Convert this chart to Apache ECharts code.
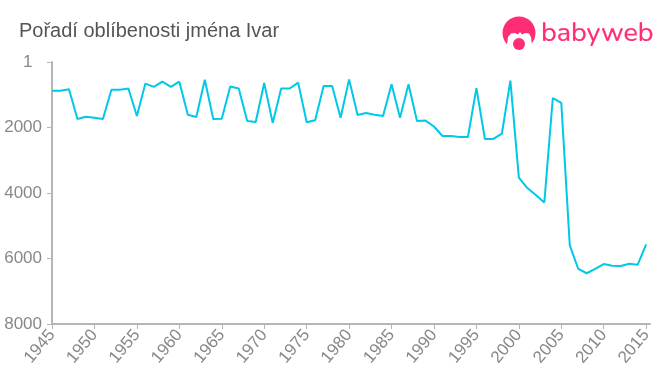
<!DOCTYPE html>
<html><head><meta charset="utf-8">
<style>html,body{margin:0;padding:0;background:#fff}#c{width:660px;height:375px}</style>
<script src="https://cdn.jsdelivr.net/npm/echarts@6/dist/echarts.min.js"></script></head>
<body><div id="c"></div>
<script>
const title = "Pořadí oblíbenosti jména Ivar";
const brand = "babyweb";
const years = [1945,1946,1947,1948,1949,1950,1951,1952,1953,1954,1955,1956,1957,1958,1959,1960,1961,1962,1963,1964,1965,1966,1967,1968,1969,1970,1971,1972,1973,1974,1975,1976,1977,1978,1979,1980,1981,1982,1983,1984,1985,1986,1987,1988,1989,1990,1991,1992,1993,1994,1995,1996,1997,1998,1999,2000,2001,2002,2003,2004,2005,2006,2007,2008,2009,2010,2011,2012,2013,2014,2015];
const ranks = [875,875,835,1740,1670,1700,1740,850,850,810,1650,660,760,600,760,600,1610,1680,540,1740,1730,750,810,1800,1830,640,1860,810,810,630,1840,1780,730,730,1700,530,1620,1560,1610,1650,680,1700,680,1800,1790,1970,2260,2260,2290,2290,800,2350,2350,2190,570,3530,3850,4060,4290,1100,1250,5600,6320,6450,6320,6170,6220,6230,6160,6190,5570];
const xTicks = [1945,1950,1955,1960,1965,1970,1975,1980,1985,1990,1995,2000,2005,2010,2015];
const yTicks = [0,2000,4000,6000,8000];
const yLabels = ["1  ","2000","4000","6000","8000"];
const pink = "#ff2d78";
const chart = echarts.init(document.getElementById('c'), null, {renderer:'canvas'});
const font = '"Liberation Sans", Arial, sans-serif';
chart.setOption({
  animation:false,
  backgroundColor:'#fff',
  title:{text:title,left:14,top:16,textStyle:{color:'#555',fontSize:20,fontWeight:'normal',fontFamily:font}},
  grid:{left:52,right:10,top:62,bottom:51,containLabel:false},
  xAxis:{type:'value',min:1945,max:2015.45,position:'bottom',
    axisLine:{show:true,onZero:false,lineStyle:{color:'#b5b5b5',width:2}},
    axisTick:{show:true,length:5,customValues:xTicks,lineStyle:{color:'#b5b5b5',width:1}},
    axisLabel:{customValues:xTicks,rotate:50,color:'#888',fontSize:17,fontFamily:font,margin:8,formatter:v=>String(v)},
    splitLine:{show:false}},
  yAxis:{type:'value',inverse:true,min:0,max:8000,
    axisLine:{show:true,onZero:false,lineStyle:{color:'#b5b5b5',width:2}},
    axisTick:{show:true,length:5,customValues:yTicks,lineStyle:{color:'#b5b5b5',width:1}},
    axisLabel:{customValues:yTicks,color:'#888',fontSize:17,fontFamily:font,margin:10,padding:[2,0,0,0],formatter:v=>yLabels[yTicks.indexOf(v)]},
    splitLine:{show:false}},
  series:[{type:'line',data:years.map((y,i)=>[y,ranks[i]]),showSymbol:false,symbol:'none',smooth:false,
    lineStyle:{color:'#00c8e6',width:2},itemStyle:{color:'#00c8e6'},z:3}],
  graphic:[
    {type:'circle',shape:{cx:519,cy:33,r:16.5},style:{fill:pink}},
    {type:'polygon',shape:{points:[[507,45],[508,37],[511,33.5],[515,33],[518,34.5],[520,32],[522,34.5],[525,33],[529,33.5],[531,37],[532,45],[536,52],[503,52]]},style:{fill:'#fff'}},
    {type:'circle',shape:{cx:519,cy:44,r:6},style:{fill:pink}},
    {type:'text',x:541,y:34,style:{text:brand,fill:pink,stroke:pink,lineWidth:0.2,fontSize:27,fontFamily:'"Nunito","Lato",sans-serif',verticalAlign:'middle',align:'left'}}
  ]
});
</script></body></html>
